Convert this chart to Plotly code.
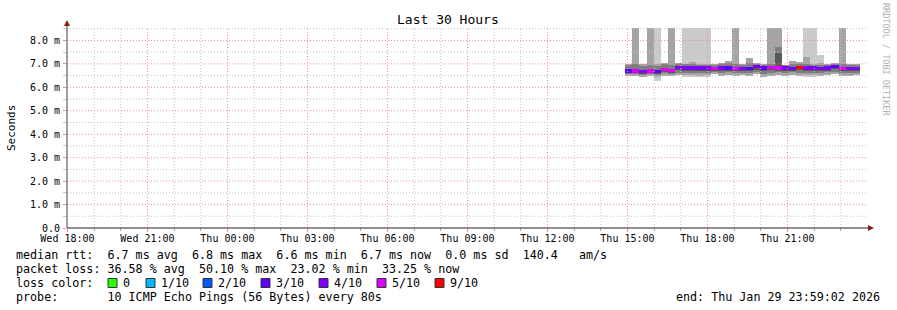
import plotly.graph_objects as go
import pandas as pd

NaN = float("nan")

# ---------------- data ----------------
end_time = pd.Timestamp("2026-01-29 23:59:02")
start_time = end_time - pd.Timedelta(hours=30)
data_start = pd.Timestamp("2026-01-29 14:55:00")
step_minutes = 16

median_ms = [6.70, 6.70, 6.67, 6.70, 6.66, 6.76, 6.72, 6.84,
             6.83, 6.83, 6.82, 6.82, 6.81, 6.83, 6.83, 6.81, 6.79,
             6.80, 6.88, 6.83, 6.84, 6.82, 6.83, 6.81, 6.84, 6.83,
             6.82, 6.81, 6.82, 6.90, 6.81, 6.81, 6.81]
median_loss = ["3/10", "5/10", "4/10", "5/10", "3/10", "5/10", "5/10", "4/10",
               "4/10", "4/10", "4/10", "4/10", "5/10", "4/10", "3/10", "5/10", "4/10",
               "3/10", "4/10", "3/10", "5/10", "5/10", "4/10", "3/10", "9/10", "4/10",
               "4/10", "4/10", "4/10", "3/10", "5/10", "4/10", "4/10"]

# smoke layers (outer -> inner), ms
l1_lo = [NaN, NaN, NaN, NaN, 6.27, NaN, NaN, NaN,
         6.45, 6.45, 6.45, 6.45, NaN, NaN, NaN, NaN, NaN,
         NaN, NaN, NaN, NaN, NaN, NaN, NaN, NaN, 6.45,
         6.45, 6.48, NaN, NaN, NaN, NaN, NaN]
l1_hi = [NaN, NaN, NaN, NaN, 9.0, NaN, NaN, NaN,
         9.0, 9.0, 9.0, 9.0, NaN, NaN, NaN, NaN, NaN,
         NaN, NaN, NaN, NaN, NaN, NaN, NaN, NaN, 9.0,
         9.0, 7.36, NaN, NaN, NaN, NaN, NaN]
l2_lo = [6.48, 6.47, 6.45, 6.47, 6.42, 6.50, 6.48, 6.52,
         6.52, 6.52, 6.50, 6.52, 6.55, 6.50, 6.52, 6.50, 6.52,
         6.48, 6.55, 6.45, 6.50, 6.52, 6.50, 6.52, 6.50, 6.52,
         6.52, 6.50, 6.52, 6.55, 6.50, 6.50, 6.52]
l2_hi = [7.00, 9.0, 6.98, 9.0, 7.00, 7.03, 9.0, 7.05,
         7.00, 7.07, 7.00, 7.00, 6.98, 7.05, 7.12, 9.0, 6.98,
         7.24, 7.05, 6.98, 9.0, 9.0, 6.96, 7.14, 7.08, 7.30,
         7.00, 7.02, 7.00, 7.05, 9.0, 6.98, 6.98]
l3_lo = [6.56, 6.56, 6.54, 6.56, 6.52, 6.60, 6.58, 6.62,
         6.62, 6.62, 6.62, 6.62, 6.64, 6.62, 6.64, 6.62, 6.62,
         6.60, 6.66, 6.58, 6.62, 6.64, 6.62, 6.64, 6.62, 6.62,
         6.62, 6.62, 6.64, 6.66, 6.62, 6.62, 6.62]
l3_hi = [6.96, 6.98, 6.92, 6.96, 6.92, 6.98, 6.95, 7.00,
         6.98, 7.00, 6.96, 6.96, 6.94, 6.98, 7.02, 6.98, 6.94,
         7.02, 7.00, 6.94, 6.98, 7.72, 6.94, 7.00, 7.00, 7.00,
         6.96, 6.96, 6.96, 7.00, 6.98, 6.94, 6.94]
l4_lo = [6.60, 6.60, 6.56, 6.60, 6.55, 6.64, 6.62, 6.72,
         6.71, 6.71, 6.70, 6.70, 6.70, 6.71, 6.71, 6.70, 6.68,
         6.68, 6.76, 6.70, 6.72, 6.70, 6.71, 6.69, 6.72, 6.71,
         6.70, 6.69, 6.70, 6.78, 6.69, 6.69, 6.69]
l4_hi = [6.74, 6.74, 6.70, 6.74, 6.70, 6.80, 6.76, 6.88,
         6.87, 6.87, 6.86, 6.86, 6.85, 6.87, 6.87, 6.85, 6.83,
         6.84, 6.92, 6.87, 6.88, 7.48, 6.87, 6.85, 6.88, 6.87,
         6.86, 6.85, 6.86, 6.94, 6.85, 6.85, 6.85]

loss_labels = ["0", "1/10", "2/10", "3/10", "4/10", "5/10", "9/10"]
loss_colors = ["#26ff00", "#00b8ff", "#0059ff", "#5e00ff", "#7e00ff", "#dd00ff", "#ff0000"]

y_tick_vals = [0, 1, 2, 3, 4, 5, 6, 7, 8]
y_tick_text = ["0.0", "1.0 m", "2.0 m", "3.0 m", "4.0 m", "5.0 m", "6.0 m", "7.0 m", "8.0 m"]

rtt_stats = [6.7, 6.8, 6.6, 6.7, 0.0]
loss_stats = [36.58, 50.10, 23.02, 33.25]
am_s = 140.4
probe_text = "10 ICMP Echo Pings (56 Bytes) every 80s"
end_text = "end: Thu Jan 29 23:59:02 2026"

# ---------------- layout geometry ----------------
W, H = 897, 310
PL, PR, PT, PB = 67, 867, 28, 228
PW, PH = PR - PL, PB - PT
Y_MAX = 8.53
FONT = "DejaVu Sans Mono"
NB = "\u00a0"


def px(xpix):
    return (xpix - PL) / PW


def py(ypix):
    return (PB - ypix) / PH


n = len(median_ms)
step = pd.Timedelta(minutes=step_minutes)
centers = [data_start + step * (i + 0.5) for i in range(n)]
bar_w = step_minutes * 60 * 1000

fig = go.Figure()


def add_layer(lo, hi, color):
    xs, ys, bs = [], [], []
    for c, a, b in zip(centers, lo, hi):
        if a == a and b == b:
            xs.append(c)
            bs.append(a)
            ys.append(b - a)
    fig.add_trace(go.Bar(x=xs, y=ys, base=bs, width=bar_w,
                         marker=dict(color=color, line=dict(width=0)),
                         showlegend=False, hoverinfo="skip"))


add_layer(l1_lo, l1_hi, "#cacaca")
add_layer(l2_lo, l2_hi, "#a4a4a4")
add_layer(l3_lo, l3_hi, "#7e7e7e")
add_layer(l4_lo, l4_hi, "#585858")

color_of = dict(zip(loss_labels, loss_colors))
med_half = 0.07
fig.add_trace(go.Bar(x=centers, y=[2 * med_half] * n,
                     base=[m - med_half for m in median_ms], width=bar_w,
                     marker=dict(color=[color_of[l] for l in median_loss], line=dict(width=0)),
                     showlegend=False, hoverinfo="skip"))

# ---------------- grid (drawn above the smoke, like rrdtool) ----------------
major_c = "#ee8f8f"
minor_c = "#c4c4c4"
dash = "1px,2px"
shapes = []
y_minor = [v / 2 for v in range(1, 18) if v % 2 == 1 and v / 2 <= Y_MAX]
for v in y_minor:
    shapes.append(dict(type="line", xref="paper", yref="y", x0=0, x1=1, y0=v, y1=v,
                       line=dict(color=minor_c, width=1, dash=dash), layer="above"))
for v in y_tick_vals[1:]:
    shapes.append(dict(type="line", xref="paper", yref="y", x0=0, x1=1, y0=v, y1=v,
                       line=dict(color=major_c, width=1, dash=dash), layer="above"))
hours = pd.date_range("2026-01-28 19:00", end_time, freq="h")
for t in hours:
    col = major_c if t.hour % 3 == 0 else minor_c
    shapes.append(dict(type="line", xref="x", yref="paper", x0=t, x1=t, y0=0, y1=1,
                       line=dict(color=col, width=1, dash=dash), layer="above"))

# axes lines and arrows
axis_c = "#222222"
arrow_c = "#8b1a1a"
shapes.append(dict(type="line", xref="paper", yref="paper", x0=0, x1=px(871), y0=0, y1=0,
                   line=dict(color=axis_c, width=1), layer="above"))
shapes.append(dict(type="line", xref="paper", yref="paper", x0=0, x1=0, y0=0, y1=py(22),
                   line=dict(color="#4a3a3a", width=1), layer="above"))
shapes.append(dict(type="path", xref="paper", yref="paper",
                   path=f"M {px(868)} {py(225)} L {px(874)} {py(228)} L {px(868)} {py(231)} Z",
                   fillcolor=arrow_c, line=dict(width=0), layer="above"))
shapes.append(dict(type="path", xref="paper", yref="paper",
                   path=f"M {px(64)} {py(26)} L {px(67)} {py(20)} L {px(70)} {py(26)} Z",
                   fillcolor=arrow_c, line=dict(width=0), layer="above"))

# loss colour legend squares
sq_x = [108, 146, 203, 261, 319, 377, 435]
for x0, c in zip(sq_x, loss_colors):
    shapes.append(dict(type="rect", xref="paper", yref="paper",
                       x0=px(x0), x1=px(x0 + 9), y0=py(287.5), y1=py(278.5),
                       fillcolor=c, line=dict(color="#333333", width=1)))

# ---------------- text ----------------
ann = []
lf = dict(family=FONT, size=11.7, color="#000000")


def text_at(xpix, ypix, s, anchor="left", font=lf, angle=0):
    ann.append(dict(xref="paper", yref="paper", x=px(xpix), y=py(ypix), text=s,
                    showarrow=False, xanchor=anchor, yanchor="middle", font=font,
                    textangle=angle, borderpad=0, borderwidth=0))


line1 = ("median rtt:  " + f"{rtt_stats[0]:.1f} ms avg  " + f"{rtt_stats[1]:.1f} ms max  "
         + f"{rtt_stats[2]:.1f} ms min  " + f"{rtt_stats[3]:.1f} ms now  "
         + f"{rtt_stats[4]:.1f} ms sd  " + f"{am_s:.1f}   am/s")
line2 = ("packet loss: " + f"{loss_stats[0]:.2f} % avg  " + f"{loss_stats[1]:.2f} % max  "
         + f"{loss_stats[2]:.2f} % min  " + f"{loss_stats[3]:.2f} % now")
line4 = "probe:       " + probe_text

text_at(16, 254.5, line1.replace(" ", NB))
text_at(16, 268.5, line2.replace(" ", NB))
text_at(16, 282.5, "loss" + NB + "color:")
for x0, lab in zip(sq_x, loss_labels):
    text_at(x0 + 15, 282.5, lab)
text_at(16, 296.5, line4.replace(" ", NB))
text_at(880, 296.5, end_text.replace(" ", NB), anchor="right")

text_at(448, 19, "Last" + NB + "30" + NB + "Hours", anchor="center",
        font=dict(family=FONT, size=13, color="#000000"))
text_at(11, 128, "Seconds", anchor="center",
        font=dict(family=FONT, size=11, color="#000000"), angle=-90)
text_at(886, 59, "RRDTOOL" + NB + "/" + NB + "TOBI" + NB + "OETIKER", anchor="center",
        font=dict(family=FONT, size=8.5, color="#b0b0b0"), angle=90)

fig.update_layout(
    width=W, height=H, autosize=False,
    margin=dict(l=PL, r=W - PR, t=PT, b=H - PB, pad=0),
    paper_bgcolor="#ffffff", plot_bgcolor="#ffffff",
    barmode="overlay", bargap=0, showlegend=False,
    shapes=shapes, annotations=ann,
    xaxis=dict(type="date", range=[start_time, end_time], showgrid=False, zeroline=False,
               showline=False, tickformat="%a %H:%M", tick0="2026-01-28 18:00:00",
               dtick=3 * 3600 * 1000, ticks="outside", ticklen=3, tickcolor=major_c,
               ticklabelstandoff=-2,
               tickfont=dict(family=FONT, size=10, color="#000000"),
               minor=dict(dtick=3600 * 1000, tick0="2026-01-28 18:00:00", ticks="outside",
                          ticklen=2, tickcolor=major_c, showgrid=False)),
    yaxis=dict(range=[0, Y_MAX], showgrid=False, zeroline=False, showline=False,
               tickmode="array", tickvals=y_tick_vals, ticktext=y_tick_text,
               ticks="outside", ticklen=3, tickcolor=major_c,
               ticklabelstandoff=1,
               tickfont=dict(family=FONT, size=10, color="#000000"),
               minor=dict(dtick=0.5, tick0=0, ticks="outside", ticklen=3,
                          tickcolor=minor_c, showgrid=False)),
)

fig.write_html("out.html")
